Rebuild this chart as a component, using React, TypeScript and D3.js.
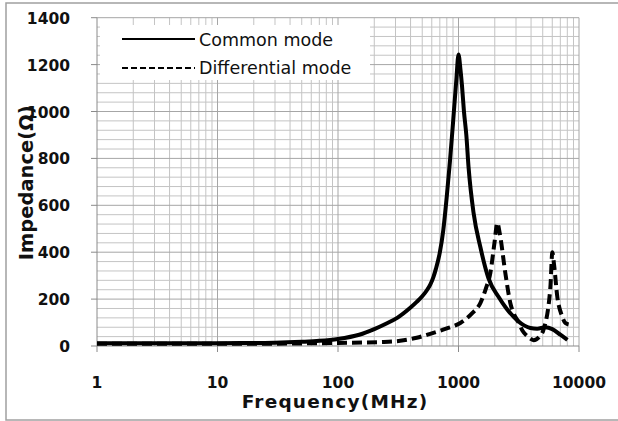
import React from "react";
import * as d3 from "d3";

// Frequency (MHz) and impedance (Ohm)
const commonFreq = [1, 3, 10, 20, 30, 50, 70, 100, 150, 200, 250, 310, 400, 450, 500, 550, 583, 620, 650, 700, 748, 800, 850, 900, 959, 1000, 1040, 1069, 1110, 1161, 1213, 1334, 1518, 1770, 2154, 2500, 3050, 3500, 3947, 4500, 5260, 6000, 7000, 8014];
const commonZ = [12, 12, 12, 13, 14, 18, 22, 30, 48, 72, 95, 120, 164, 188, 212, 240, 262, 295, 330, 399, 495, 640, 790, 950, 1134, 1243, 1175, 1110, 1000, 900, 760, 567, 422, 290, 209, 160, 111, 88, 77, 74, 80, 72, 48, 26];

const diffFreq = [1, 10, 30, 50, 100, 237, 328, 450, 583, 800, 1035, 1300, 1518, 1700, 1837, 2000, 2096, 2200, 2447, 2700, 2852, 3077, 3400, 3800, 4200, 4700, 5060, 5786, 6010, 6200, 6610, 7200, 7710, 8200];
const diffZ = [10, 10, 10, 11, 13, 17, 22, 35, 52, 75, 98, 140, 183, 250, 311, 450, 525, 480, 311, 180, 141, 111, 65, 38, 25, 40, 68, 250, 400, 350, 209, 130, 98, 92];

const xTicks = [1, 10, 100, 1000, 10000];
const yTicks = [0, 200, 400, 600, 800, 1000, 1200, 1400];
const seriesNames = ["Common mode", "Differential mode"];

const font = "'DejaVu Sans', sans-serif";

export default function App() {
  const left = 97;
  const right = 579;
  const top = 17.7;
  const bottom = 346;

  const x = d3.scaleLog().domain([1, 10000]).range([left, right]);
  const y = d3.scaleLinear().domain([0, 1400]).range([bottom, top]);

  // minor grid
  const xMinor: number[] = [];
  for (let k = 0; k < 4; k++) {
    for (let m = 2; m <= 9; m++) xMinor.push(m * Math.pow(10, k));
  }
  const yMinor = d3.range(40, 1400, 40).filter((v) => v % 200 !== 0);

  const line = d3
    .line<[number, number]>()
    .x((d) => x(d[0]))
    .y((d) => y(d[1]))
    .curve(d3.curveMonotoneX);

  const commonPath = line(commonFreq.map((f, i) => [f, commonZ[i]]) as [number, number][]) || "";
  const diffPath = line(diffFreq.map((f, i) => [f, diffZ[i]]) as [number, number][]) || "";

  return (
    <svg
      width={618}
      height={421}
      style={{ position: "absolute", left: 0, top: 0, background: "#fff" }}
    >
      <rect x={0} y={0} width={618} height={421} fill="#fff" />
      {/* chart border */}
      <rect x={6} y={3} width={640} height={417} fill="none" stroke="#a0a0a0" strokeWidth={1.5} />

      {/* minor gridlines */}
      {yMinor.map((v) => (
        <line key={"ym" + v} x1={left} x2={right} y1={y(v)} y2={y(v)} stroke="#c4c4c4" strokeWidth={1} />
      ))}
      {xMinor.map((v) => (
        <line key={"xm" + v} x1={x(v)} x2={x(v)} y1={top} y2={bottom} stroke="#c4c4c4" strokeWidth={1} />
      ))}
      {/* major gridlines */}
      {yTicks.slice(1).map((v) => (
        <line key={"yM" + v} x1={left} x2={right} y1={y(v)} y2={y(v)} stroke="#a6a6a6" strokeWidth={1} />
      ))}
      {xTicks.slice(1).map((v) => (
        <line key={"xM" + v} x1={x(v)} x2={x(v)} y1={top} y2={bottom} stroke="#a6a6a6" strokeWidth={1} />
      ))}

      {/* axes */}
      <line x1={left} x2={left} y1={top} y2={bottom} stroke="#8a8a8a" />
      <line x1={left} x2={right} y1={bottom} y2={bottom} stroke="#8a8a8a" />
      {yTicks.map((v) => (
        <g key={"yt" + v}>
          <line x1={left - 6} x2={left} y1={y(v)} y2={y(v)} stroke="#8a8a8a" />
          <text
            x={70}
            y={y(v) + 6}
            textAnchor="end"
            fontFamily={font}
            fontWeight="bold"
            fontSize={15.5}
            fill="#111"
          >
            {v}
          </text>
        </g>
      ))}
      {xTicks.map((v) => (
        <g key={"xt" + v}>
          <line x1={x(v)} x2={x(v)} y1={bottom} y2={bottom + 6} stroke="#8a8a8a" />
          <text
            x={x(v)}
            y={388}
            textAnchor="middle"
            fontFamily={font}
            fontWeight="bold"
            fontSize={15.5}
            fill="#111"
          >
            {v}
          </text>
        </g>
      ))}

      {/* series */}
      <path d={commonPath} fill="none" stroke="#000" strokeWidth={4} strokeLinejoin="round" />
      <path d={diffPath} fill="none" stroke="#000" strokeWidth={4} strokeDasharray="10,5" />

      {/* legend */}
      <rect x={100} y={25} width={270} height={55} fill="#fff" />
      <line x1={122} x2={195} y1={39} y2={39} stroke="#000" strokeWidth={2.2} />
      <line x1={122} x2={195} y1={68} y2={68} stroke="#000" strokeWidth={2.2} strokeDasharray="6,3" />
      <text x={199} y={46} fontFamily={font} fontSize={17.5} fill="#111">
        {seriesNames[0]}
      </text>
      <text x={199} y={74} fontFamily={font} fontSize={17.5} fill="#111">
        {seriesNames[1]}
      </text>

      {/* axis titles */}
      <text
        x={(left + right) / 2 - 3}
        y={408}
        textAnchor="middle"
        fontFamily={font}
        fontWeight="bold"
        fontSize={18.5}
        letterSpacing={1.2}
        fill="#111"
      >
        Frequency(MHz)
      </text>
      <text
        transform={`translate(33,${(top + bottom) / 2 + 1}) rotate(-90)`}
        textAnchor="middle"
        fontFamily={font}
        fontWeight="bold"
        fontSize={19.5}
        fill="#111"
      >
        Impedance(Ω)
      </text>
    </svg>
  );
}
